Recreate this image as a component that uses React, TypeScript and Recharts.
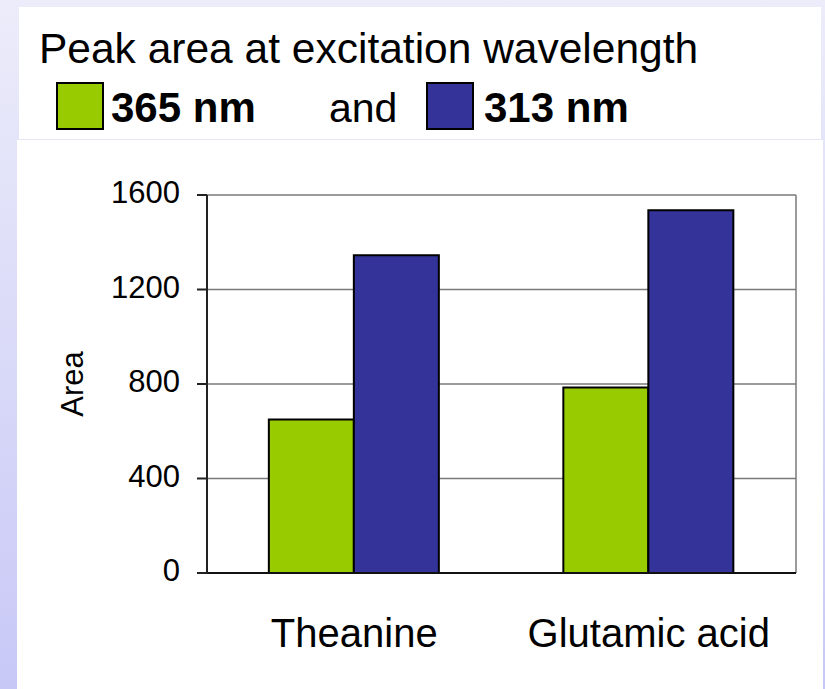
import React from "react";
import { BarChart, Bar, XAxis, YAxis, CartesianGrid, Label } from "recharts";

const categories = ["Theanine", "Glutamic acid"];
const area365 = [650, 785];
const area313 = [1345, 1535];
const yTicks = [0, 400, 800, 1200, 1600];

const seriesKeys = ["nm365", "nm313"];
const seriesNames = ["365 nm", "313 nm"];
const seriesColors = ["#99cc00", "#333399"];

const data = categories.map((name, i) => ({ name, nm365: area365[i], nm313: area313[i] }));

const FONT = "'Liberation Sans', Arial, sans-serif";

function AreaLabel({ viewBox }: any) {
  const cy = viewBox.y + viewBox.height / 2;
  const bx = 83;
  return (
    <text x={bx} y={cy} transform={`rotate(-90, ${bx}, ${cy})`} textAnchor="middle" fontSize={31} fill="#000" fontFamily={FONT}>
      Area
    </text>
  );
}

// header: title line plus the swatch legend on the second line
function Header() {
  const swatchX = [57, 427];
  const textX = [111, 484];
  return (
    <svg width={825} height={140} style={{ position: "absolute", left: 0, top: 0 }} fontFamily={FONT}>
      <text x={39} y={63} fontSize={42.5} fill="#000">Peak area at excitation wavelength</text>
      {seriesNames.map((n, i) => (
        <g key={n}>
          <rect x={swatchX[i]} y={83} width={46} height={46} fill={seriesColors[i]} stroke="#000" strokeWidth={2} />
          <text x={textX[i]} y={122} fontSize={42} fontWeight="bold" fill="#000">{n}</text>
        </g>
      ))}
      <text x={329} y={122} fontSize={41} fill="#000">and</text>
    </svg>
  );
}

export default function App() {
  return (
    <div
      style={{
        position: "absolute",
        left: 0,
        top: 0,
        width: 825,
        height: 689,
        overflow: "hidden",
        background: "linear-gradient(#ececfa, #c8c8f7)",
        fontFamily: FONT,
      }}
    >
      <div style={{ position: "absolute", left: 19, top: 7, width: 802, height: 132, background: "#fff" }} />
      <div style={{ position: "absolute", left: 17, top: 140, width: 806, height: 549, background: "#fff" }} />
      <Header />
      <div style={{ position: "absolute", left: 0, top: 0 }}>
        <BarChart
          width={825}
          height={689}
          data={data}
          margin={{ top: 195, right: 29, bottom: 0, left: 0 }}
          barCategoryGap="21%"
          barGap={0}
          style={{ fontFamily: FONT }}
        >
          <CartesianGrid
            stroke="#7a7a7a"
            strokeWidth={1.5}
            verticalCoordinatesGenerator={({ offset }: any) => [offset.left + offset.width]}
          />
          <XAxis
            dataKey="name"
            height={116}
            interval={0}
            tickLine={false}
            tickSize={0}
            tickMargin={46}
            axisLine={{ stroke: "#111", strokeWidth: 2 }}
            tick={{ fontSize: 40, fill: "#000" }}
          />
          <YAxis
            width={207}
            domain={[0, 1600]}
            ticks={yTicks}
            interval={0}
            tickSize={10}
            tickMargin={17}
            axisLine={{ stroke: "#222", strokeWidth: 2 }}
            tickLine={{ stroke: "#222", strokeWidth: 2 }}
            tick={{ fontSize: 31, fill: "#000", dy: -3 }}
          >
            <Label content={<AreaLabel />} />
          </YAxis>
          {seriesKeys.map((k, i) => (
            <Bar
              key={k}
              dataKey={k}
              name={seriesNames[i]}
              fill={seriesColors[i]}
              stroke="#000"
              strokeWidth={2}
              isAnimationActive={false}
            />
          ))}
        </BarChart>
      </div>
    </div>
  );
}
